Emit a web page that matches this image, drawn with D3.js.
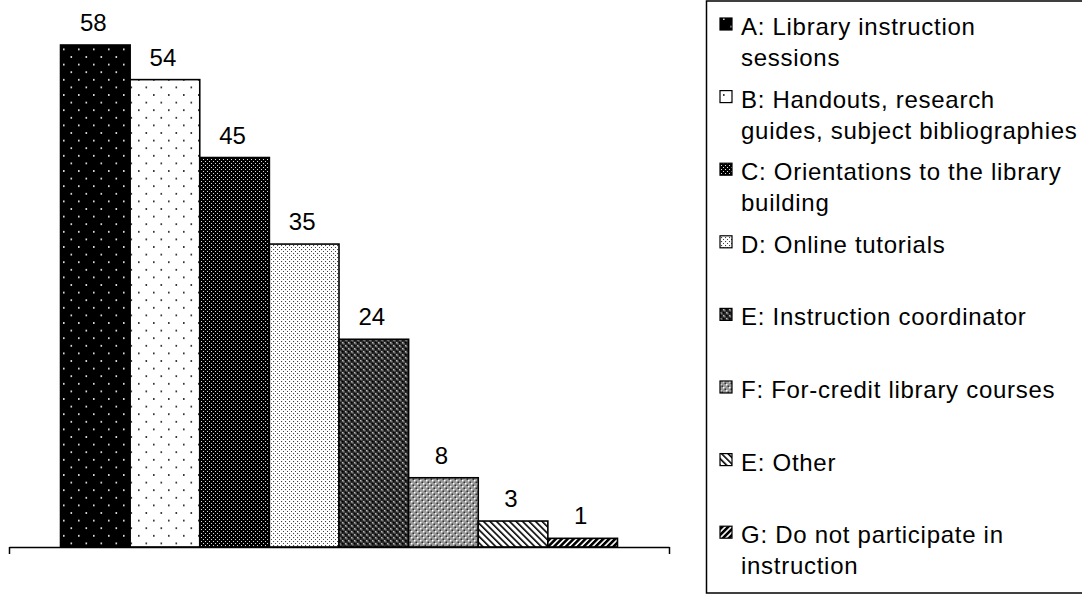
<!DOCTYPE html>
<html><head><meta charset="utf-8">
<script src="https://cdn.jsdelivr.net/npm/d3@7"></script>
<style>body{margin:0;background:#fff} svg{display:block} text{font-family:"Liberation Sans",Arial,Helvetica,sans-serif;fill:#000}</style>
</head><body><svg id="c" width="1082" height="595"></svg>
<script>
const categories = ["A","B","C","D","E","F","O","G"];
const values = [58,54,45,35,24,8,3,1];
const legendLabels = [
  ["A: Library instruction","sessions"],
  ["B: Handouts, research","guides, subject bibliographies"],
  ["C: Orientations to the library","building"],
  ["D: Online tutorials"],
  ["E: Instruction coordinator"],
  ["F: For-credit library courses"],
  ["E: Other"],
  ["G: Do not participate in","instruction"]
];
const yMax = 60;

const svg = d3.select("#c");
const defs = svg.append("defs");

function dotPattern(id, w, h, bg, fg, pts, sz) {
  const p = defs.append("pattern").attr("id", id).attr("patternUnits","userSpaceOnUse")
    .attr("width", w).attr("height", h);
  p.append("rect").attr("width", w).attr("height", h).attr("fill", bg);
  pts.forEach(([x,y,c]) => p.append("rect").attr("x",x).attr("y",y).attr("width",sz).attr("height",sz).attr("fill", c || fg));
}
dotPattern("pA", 15, 15.2, "#000", "#fff", [[3,3],[10.5,10.6]], 1.6);
dotPattern("pB", 15, 15.2, "#fff", "#111", [[3,3],[10.5,10.6]], 1.6);
dotPattern("pC", 4, 4, "#000", "#ddd", [[1,1],[3,3]], 1);
dotPattern("pD", 4, 4, "#fff", "#444", [[1,1],[3,3]], 1.1);
dotPattern("pE", 6, 6, "#2a2a2a", "#bbb", [[0,0],[3,3],[1,1,"#777"],[4,4,"#777"],[0,3,"#000"],[3,0,"#000"]], 1.5);
dotPattern("pF", 6, 6, "#9a9a9a", "#fff", [[0,0],[3,3],[1.5,1.5,"#333"],[4.5,4.5,"#333"]], 1.5);

function stripePattern(id, angle, spacing, lw) {
  const p = defs.append("pattern").attr("id", id).attr("patternUnits","userSpaceOnUse")
    .attr("width", spacing).attr("height", spacing).attr("patternTransform", `rotate(${angle})`);
  p.append("rect").attr("width", spacing).attr("height", spacing).attr("fill", "#fff");
  p.append("rect").attr("x",0).attr("y",0).attr("width", lw).attr("height", spacing).attr("fill", "#000");
}
stripePattern("pO", -45, 4.6, 1.6);
stripePattern("pG", 45, 4.2, 2.6);

const fills = ["pA","pB","pC","pD","pE","pF","pO","pG"];

// plot geometry
const plotLeft = 9, plotRight = 669, baseY = 547;
const pxPerUnit = 8.655;
const y = d3.scaleLinear().domain([0, yMax]).range([baseY, baseY - yMax*pxPerUnit]);
const x = d3.scaleBand().domain(categories).range([plotLeft, plotRight]).paddingInner(0).paddingOuter(0.74);

svg.append("g").selectAll("rect").data(values).join("rect")
  .attr("x", (d,i) => x(categories[i]))
  .attr("y", d => y(d))
  .attr("width", x.bandwidth())
  .attr("height", d => y(0) - y(d))
  .attr("fill", (d,i) => `url(#${fills[i]})`)
  .attr("stroke", "#000").attr("stroke-width", 1.6);

svg.append("g").selectAll("text").data(values).join("text")
  .attr("x", (d,i) => x(categories[i]) + x.bandwidth()/2 - 2)
  .attr("y", d => y(d) - 14)
  .attr("text-anchor", "middle")
  .attr("font-size", 24)
  .text(d => d);

// axis
const ax = d3.scaleLinear().domain([0,1]).range([plotLeft, plotRight]);
const axisG = svg.append("g").attr("transform", `translate(0,${baseY})`)
  .call(d3.axisBottom(ax).tickValues([0,1]).tickFormat("").tickSize(7).tickSizeOuter(0));
axisG.select(".domain").attr("stroke", "#000").attr("stroke-width", 1.5);
axisG.selectAll(".tick line").attr("stroke", "#000").attr("stroke-width", 1.5);

// legend
const lg = svg.append("g");
lg.append("rect").attr("x", 706.5).attr("y", 1).attr("width", 400).attr("height", 592)
  .attr("fill", "#fff").attr("stroke", "#000").attr("stroke-width", 1.5);
const firstBase = 35, step = 72.6, lineH = 31;
legendLabels.forEach((lines, i) => {
  const b = firstBase + i*step;
  lg.append("rect").attr("x", 720).attr("y", b - 17).attr("width", 12).attr("height", 12)
    .attr("fill", `url(#${fills[i]})`).attr("stroke", "#000").attr("stroke-width", 1.2);
  const t = lg.append("text").attr("x", 741).attr("y", b).attr("font-size", 24).attr("letter-spacing", 0.72);
  lines.forEach((ln, j) => t.append("tspan").attr("x", 741).attr("y", b + j*lineH).text(ln));
});
</script></body></html>
